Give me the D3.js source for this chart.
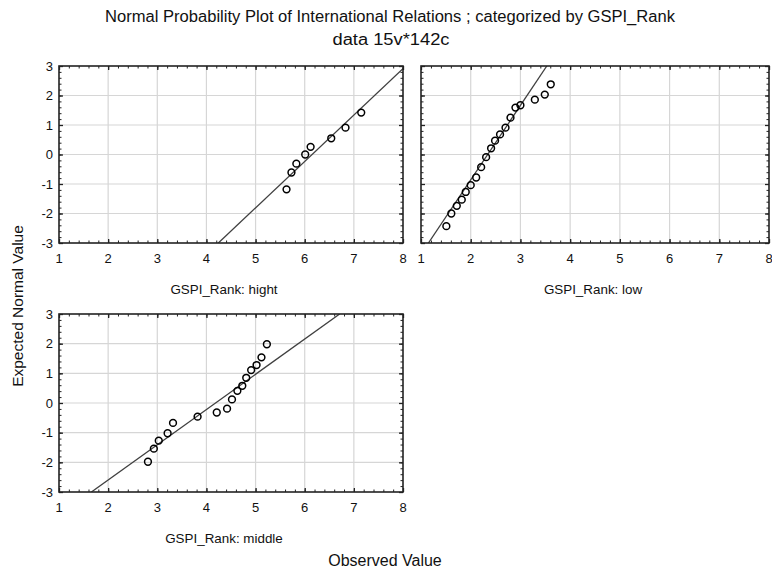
<!DOCTYPE html>
<html>
<head>
<meta charset="utf-8">
<script src="https://cdn.jsdelivr.net/npm/d3@7"></script>
<style>
  body { margin: 0; background: #fff; }
  svg { display: block; }
  text { font-family: "Liberation Sans", Arial, sans-serif; fill: #111; }
</style>
</head>
<body>
<div id="chart"></div>
<script>
// data
var groups = ["hight", "low", "middle"];

var hightObs = [5.63, 5.73, 5.83, 6.01, 6.12, 6.54, 6.83, 7.15];
var hightExp = [-1.18, -0.61, -0.31, 0.00, 0.26, 0.55, 0.91, 1.42];

var lowObs = [1.51, 1.61, 1.72, 1.82, 1.90, 2.00, 2.11, 2.21, 2.31, 2.41, 2.49, 2.59, 2.70, 2.80, 2.90, 3.00, 3.29, 3.49, 3.61];
var lowExp = [-2.43, -2.00, -1.74, -1.53, -1.27, -1.04, -0.78, -0.43, -0.09, 0.21, 0.47, 0.68, 0.91, 1.25, 1.59, 1.67, 1.86, 2.03, 2.38];

var middleObs = [2.81, 2.93, 3.03, 3.21, 3.32, 3.82, 4.21, 4.42, 4.52, 4.63, 4.73, 4.81, 4.91, 5.02, 5.12, 5.23];
var middleExp = [-1.98, -1.54, -1.27, -1.02, -0.67, -0.46, -0.32, -0.19, 0.12, 0.41, 0.58, 0.85, 1.11, 1.28, 1.54, 1.98];

// reference line: expected = (observed - mean) / sd
var lineMean = [6.15, 2.34, 4.185];
var lineSd = [0.636, 0.397, 0.842];

var xTicks = [1, 2, 3, 4, 5, 6, 7, 8];
var yTicks = [-3, -2, -1, 0, 1, 2, 3];

var title = "Normal Probability Plot of International Relations ; categorized by GSPI_Rank";
var subtitle = "data 15v*142c";

var w = 772, h = 574;

var svg = d3.select('#chart').append('svg')
  .attr('width', w)
  .attr('height', h);

// panel boxes (left, right, top, bottom)
var boxes = [
  { x0: 59, x1: 403, y0: 66, y1: 243, labelX: 224, labelY: 294, yLabels: true },
  { x0: 421, x1: 769, y0: 66, y1: 243, labelX: 593, labelY: 294, yLabels: false },
  { x0: 59, x1: 403, y0: 314, y1: 492, labelX: 224, labelY: 543, yLabels: true }
];

var obsData = [hightObs, lowObs, middleObs];
var expData = [hightExp, lowExp, middleExp];

var minorX = d3.range(1, 8.001, 0.2).map(function(v) { return +v.toFixed(1); });
var minorY = d3.range(-3, 3.001, 0.2).map(function(v) { return +v.toFixed(1); });

// the original title font is a condensed one, squeeze it to the same width
svg.append('text')
  .attr('x', 390)
  .attr('y', 22)
  .attr('text-anchor', 'middle')
  .attr('textLength', 570)
  .attr('lengthAdjust', 'spacingAndGlyphs')
  .style('font-size', '16px')
  .text(title);

svg.append('text')
  .attr('x', 391)
  .attr('y', 45)
  .attr('text-anchor', 'middle')
  .attr('textLength', 117)
  .attr('lengthAdjust', 'spacingAndGlyphs')
  .style('font-size', '16px')
  .text(subtitle);

groups.forEach(function(g, k) {
  var b = boxes[k];
  var x = d3.scaleLinear().domain([1, 8]).range([b.x0, b.x1]);
  var y = d3.scaleLinear().domain([-3, 3]).range([b.y1, b.y0]);

  var p = svg.append('g').attr('class', 'panel panel-' + g);

  // grid
  p.append('g').selectAll('line.gx')
    .data(xTicks.slice(1, -1))
    .enter().append('line')
    .attr('x1', function(d) { return x(d); })
    .attr('x2', function(d) { return x(d); })
    .attr('y1', b.y0)
    .attr('y2', b.y1)
    .style('stroke', '#d6d6d6')
    .style('stroke-width', 1.2);

  p.append('g').selectAll('line.gy')
    .data(yTicks.slice(1, -1))
    .enter().append('line')
    .attr('x1', b.x0)
    .attr('x2', b.x1)
    .attr('y1', function(d) { return y(d); })
    .attr('y2', function(d) { return y(d); })
    .style('stroke', '#d6d6d6')
    .style('stroke-width', 1.2);

  // clip for the fit line
  svg.append('clipPath').attr('id', 'clip-' + g)
    .append('rect')
    .attr('x', b.x0)
    .attr('y', b.y0)
    .attr('width', b.x1 - b.x0)
    .attr('height', b.y1 - b.y0);

  var m = lineMean[k], s = lineSd[k];
  p.append('line')
    .attr('clip-path', 'url(#clip-' + g + ')')
    .attr('x1', x(m - 3 * s))
    .attr('y1', y(-3))
    .attr('x2', x(m + 3 * s))
    .attr('y2', y(3))
    .style('stroke', '#404040')
    .style('stroke-width', 1.3);

  // minor + major ticks pointing inward on all four sides
  var sides = [
    { ax: d3.axisBottom(x), t: 'translate(0,' + b.y1 + ')', minor: minorX, major: xTicks },
    { ax: d3.axisTop(x), t: 'translate(0,' + b.y0 + ')', minor: minorX, major: xTicks },
    { ax: d3.axisLeft(y), t: 'translate(' + b.x0 + ',0)', minor: minorY, major: yTicks },
    { ax: d3.axisRight(y), t: 'translate(' + b.x1 + ',0)', minor: minorY, major: yTicks }
  ];
  sides.forEach(function(sd) {
    var gm = p.append('g')
      .attr('transform', sd.t)
      .call(sd.ax.tickValues(sd.minor).tickSize(-2.5).tickFormat(''));
    gm.select('.domain').remove();
    gm.selectAll('line').style('stroke', '#222');
    var gM = p.append('g')
      .attr('transform', sd.t)
      .call(sd.ax.tickValues(sd.major).tickSize(-4).tickFormat(''));
    gM.select('.domain').remove();
    gM.selectAll('line').style('stroke', '#222').style('stroke-width', 1.3);
  });

  // frame
  p.append('rect')
    .attr('x', b.x0)
    .attr('y', b.y0)
    .attr('width', b.x1 - b.x0)
    .attr('height', b.y1 - b.y0)
    .style('fill', 'none')
    .style('stroke', '#222')
    .style('stroke-width', 1.6);

  // tick labels
  p.append('g').selectAll('text')
    .data(xTicks)
    .enter().append('text')
    .attr('x', function(d) { return x(d); })
    .attr('y', b.y1 + 20)
    .attr('text-anchor', 'middle')
    .style('font-size', '13px')
    .text(function(d) { return d; });

  if (b.yLabels) {
    p.append('g').selectAll('text')
      .data(yTicks)
      .enter().append('text')
      .attr('x', b.x0 - 6)
      .attr('y', function(d) { return y(d) + 4.5; })
      .attr('text-anchor', 'end')
      .style('font-size', '13px')
      .text(function(d) { return d; });
  }

  // points
  var pts = obsData[k].map(function(v, i) { return [v, expData[k][i]]; });
  p.append('g').selectAll('circle')
    .data(pts)
    .enter().append('circle')
    .attr('cx', function(d) { return x(d[0]); })
    .attr('cy', function(d) { return y(d[1]); })
    .attr('r', 3.4)
    .style('fill', 'none')
    .style('stroke', '#000')
    .style('stroke-width', 1.5);

  p.append('text')
    .attr('x', b.labelX)
    .attr('y', b.labelY)
    .attr('text-anchor', 'middle')
    .style('font-size', '13.4px')
    .text('GSPI_Rank: ' + g);
});

svg.append('text')
  .attr('x', 385)
  .attr('y', 566)
  .attr('text-anchor', 'middle')
  .style('font-size', '16px')
  .text('Observed Value');

svg.append('text')
  .attr('transform', 'translate(23,306) rotate(-90)')
  .attr('text-anchor', 'middle')
  .style('font-size', '15.5px')
  .text('Expected Normal Value');
</script>
</body>
</html>
